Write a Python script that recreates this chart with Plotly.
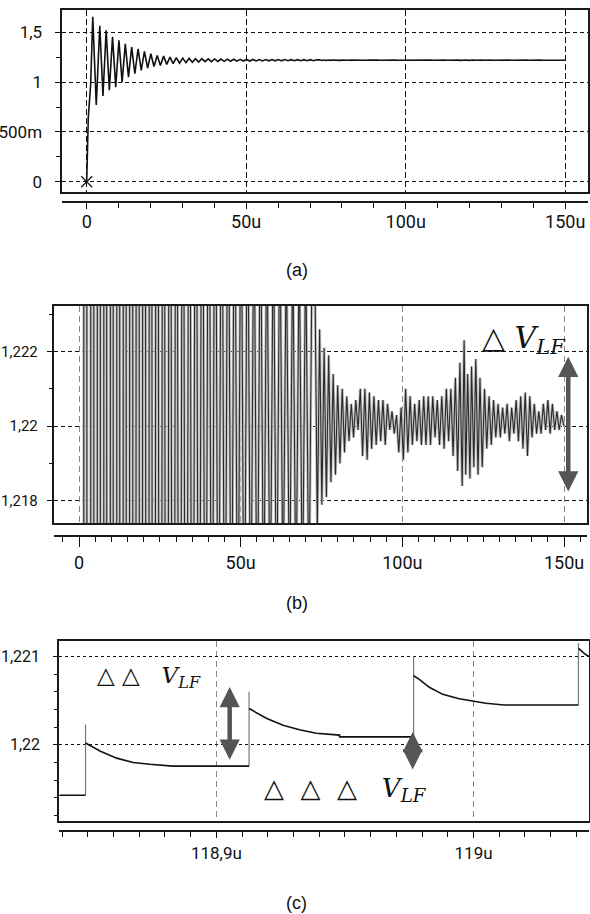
import plotly.graph_objects as go

W, H = 590, 914

# ---------------- data ----------------
# panel (a)/(b): damped ringing, extrema (time in us, volts)
a_t = [0, 0.5, 1.25, 1.9, 3.0, 4.1, 5.1, 6.1, 7.1, 8.1, 9.1, 10.1, 11.1, 12.1, 13.1, 14.1,
       15.1, 16.1, 17.1, 18.1, 19.1, 20.1, 21.1, 22.1, 23.1, 24.1, 25.1, 26.1, 27.1, 28.1,
       29.1, 30.1, 31.1, 32.1, 33.1, 34.1, 35.1, 36.1, 37.1, 38.1, 39.1, 40.1, 41.1, 42.1,
       43.1, 44.1, 45.1, 46.1, 47.1, 48.1, 49.1, 50.1, 51.1, 52.1, 53.1, 54.1, 55.1, 56.1,
       57.1, 58.1, 59.1, 60.1, 61.1, 62.1, 63.1, 64.1, 65.1, 66.1, 67.1, 68.1, 69.1, 70.1,
       71.1, 72.1]
a_v = [0, 0.65, 0.98, 1.655, 0.77, 1.565, 0.86, 1.52, 0.92, 1.455, 0.95, 1.42, 1.00, 1.385,
       1.05, 1.352, 1.084, 1.335, 1.117, 1.308, 1.14, 1.285, 1.157, 1.268, 1.168, 1.261,
       1.178, 1.251, 1.185, 1.245, 1.191, 1.241, 1.195, 1.238, 1.199, 1.236, 1.202, 1.235,
       1.205, 1.234, 1.206, 1.233, 1.208, 1.232, 1.209, 1.231, 1.210, 1.230, 1.211, 1.229,
       1.212, 1.228, 1.212, 1.228, 1.213, 1.227, 1.213, 1.227, 1.214, 1.226, 1.214, 1.226,
       1.214, 1.226, 1.215, 1.225, 1.215, 1.225, 1.215, 1.225, 1.215, 1.225, 1.215, 1.225]

# late residual ripple (visible only in the zoomed panel b), extrema pairs
b_t = [73.0, 73.7, 74.4, 75.1, 75.8, 76.5, 77.2, 77.9, 78.6, 79.3, 80.0, 80.7, 81.4, 82.1,
       82.8, 83.5, 84.2, 84.9, 85.6, 86.3, 87.0, 87.7, 88.4, 89.1, 89.8, 90.5, 91.2, 91.9,
       92.6, 93.3, 94.0, 94.7, 95.4, 96.1, 96.8, 97.5, 98.2, 98.9, 99.6, 100.3, 101.0, 101.7,
       102.4, 103.1, 103.8, 104.5, 105.2, 105.9, 106.6, 107.3, 108.0, 108.7, 109.4, 110.1,
       110.8, 111.5, 112.2, 112.9, 113.6, 114.3, 115.0, 115.7, 116.4, 117.1, 117.8, 118.5,
       119.1, 119.6, 120.2, 120.9, 121.4, 122.1, 122.7, 123.4, 124.0, 124.7, 125.4, 126.1,
       126.8, 127.5, 128.2, 128.9, 129.6, 130.3, 131.0, 131.7, 132.4, 133.1, 133.8, 134.5,
       135.2, 135.9, 136.6, 137.3, 138.0, 138.7, 139.4, 140.1, 140.8, 141.5, 142.2, 142.9,
       143.6, 144.3, 145.0, 145.7, 146.4, 147.1, 147.8, 148.5, 149.2, 150.0]
b_v = [1.2236, 1.2172, 1.2226, 1.2179, 1.2221, 1.2181, 1.2219, 1.2185, 1.2214, 1.2187,
       1.2211, 1.2190, 1.2210, 1.2193, 1.2208, 1.2196, 1.2206, 1.2197, 1.2207, 1.2199,
       1.2210, 1.2192, 1.2210, 1.2191, 1.2209, 1.2194, 1.2208, 1.2195, 1.2207, 1.2196,
       1.2207, 1.2195, 1.2206, 1.2199, 1.2204, 1.2198, 1.2203, 1.2193, 1.2205, 1.2191,
       1.2210, 1.2193, 1.2208, 1.2195, 1.2206, 1.2196, 1.2207, 1.2195, 1.2208, 1.2195,
       1.2208, 1.2195, 1.2208, 1.2197, 1.2207, 1.2195, 1.2208, 1.2194, 1.2210, 1.2196,
       1.2210, 1.2192, 1.2213, 1.2188, 1.2217, 1.2184, 1.2223, 1.2187, 1.2214, 1.2186,
       1.2216, 1.2189, 1.2218, 1.2187, 1.2213, 1.2189, 1.2210, 1.2194, 1.2208, 1.2195,
       1.2207, 1.2197, 1.2206, 1.2197, 1.2205, 1.2198, 1.2206, 1.2196, 1.2205, 1.2198,
       1.2207, 1.2196, 1.2208, 1.2194, 1.2209, 1.2192, 1.2208, 1.2197, 1.2206, 1.2198,
       1.2204, 1.2198, 1.2206, 1.2199, 1.2207, 1.2198, 1.2206, 1.2199, 1.2204, 1.2199,
       1.2203, 1.2200]

# panel (c): switching steps around 119us
c_jump_t = [118.8491, 118.9127, 118.9767, 119.0408]
c_jump_low = [1.21943, 1.21976, 1.22009, 1.22045]
c_jump_high = [1.22023, 1.22060, 1.22100, 1.22115]
c_seg_t = [
    [118.8389, 118.8491],
    [118.8491, 118.8547, 118.8612, 118.8676, 118.8741, 118.8830, 118.9127],
    [118.9127, 118.9194, 118.9259, 118.9323, 118.9388, 118.9479, 118.9479, 118.9767],
    [118.9767, 118.9789, 118.9828, 118.9880, 118.9944, 119.0009, 119.0048, 119.0119, 119.0408],
    [119.0408, 119.0436, 119.0449],
]
c_seg_v = [
    [1.21943, 1.21943],
    [1.22002, 1.21993, 1.21985, 1.21980, 1.21978, 1.21976, 1.21976],
    [1.22041, 1.22030, 1.22022, 1.22017, 1.22013, 1.22011, 1.22009, 1.22009],
    [1.22078, 1.22074, 1.22065, 1.22057, 1.22052, 1.22049, 1.22047, 1.22045, 1.22045],
    [1.22109, 1.22102, 1.22100],
]

# tick labels
a_xticks = [0, 50, 100, 150]
a_xtext = ["0", "50u", "100u", "150u"]
a_yticks = [0, 0.5, 1, 1.5]
a_ytext = ["0", "500m", "1", "1,5"]
b_yticks = [1.218, 1.22, 1.222]
b_ytext = ["1,218", "1,22", "1,222"]
c_xticks = [118.9, 119.0]
c_xtext = ["118,9u", "119u"]
c_yticks = [1.22, 1.221]
c_ytext = ["1,22", "1,221"]

# ---------------- layout helpers ----------------
def fx(px):
    return px / W

def fy(py):
    return 1 - py / H

def tfont(size):
    return dict(family="Roboto, Liberation Sans, sans-serif", size=size, color="#111")

panels = {
    # frame px: left, right, top, bottom ; bottom axis px ; x range ; y range
    "a": dict(l=61.5, r=588, t=10, b=192, ax=199.5, xr=[-7.9, 157.15], yr=[-0.103, 1.724]),
    "b": dict(l=53.8, r=587, t=306, b=523.3, ax=534, xr=[-7.8, 157.1], yr=[1.2174, 1.22322]),
    "c": dict(l=59.3, r=589, t=640.7, b=821, ax=829.3, xr=[118.8389, 119.0449], yr=[1.21914, 1.221176]),
}

fig = go.Figure()

# combined ringing waveform
w_t = a_t + b_t
w_v = a_v + b_v

fig.add_trace(go.Scatter(x=w_t, y=w_v, mode="lines", line=dict(color="#111", width=1.6),
                         xaxis="x", yaxis="y", showlegend=False, hoverinfo="skip"))
fig.add_trace(go.Scatter(x=[a_t[0]], y=[a_v[0]], mode="markers",
                         marker=dict(symbol="x-thin-open", size=11, color="#111",
                                     line=dict(color="#111", width=1.2)),
                         xaxis="x", yaxis="y", showlegend=False, hoverinfo="skip", cliponaxis=False))
# panel b: grey halo + dark stroke of the same waveform
fig.add_trace(go.Scatter(x=w_t, y=w_v, mode="lines", line=dict(color="#c4c4c4", width=3),
                         xaxis="x2", yaxis="y2", showlegend=False, hoverinfo="skip"))
fig.add_trace(go.Scatter(x=w_t, y=w_v, mode="lines", line=dict(color="#2a2a2a", width=1.1),
                         xaxis="x2", yaxis="y2", showlegend=False, hoverinfo="skip"))

# panel c
seg_x, seg_y = [], []
for ts, vs in zip(c_seg_t, c_seg_v):
    seg_x += ts + [None]
    seg_y += vs + [None]
jx, jy = [], []
for t, lo, hi in zip(c_jump_t, c_jump_low, c_jump_high):
    jx += [t, t, None]
    jy += [lo, hi, None]
fig.add_trace(go.Scatter(x=jx, y=jy, mode="lines", line=dict(color="#777", width=1.2),
                         xaxis="x3", yaxis="y3", showlegend=False, hoverinfo="skip"))
fig.add_trace(go.Scatter(x=seg_x, y=seg_y, mode="lines", line=dict(color="#111", width=1.6),
                         xaxis="x3", yaxis="y3", showlegend=False, hoverinfo="skip"))

# dummy traces for the detached time axes
for k in ("4", "5", "6"):
    fig.add_trace(go.Scatter(x=[None], y=[None], xaxis="x" + k, yaxis="y" + k,
                             showlegend=False, hoverinfo="skip"))

layout = dict(template="none", width=W, height=H, margin=dict(l=0, r=0, t=0, b=0, autoexpand=False),
              paper_bgcolor="white", plot_bgcolor="white", showlegend=False)

frame = dict(showline=True, mirror=True, linecolor="#1a1a1a", linewidth=2, zeroline=False,
             automargin=False, ticklabeloverflow="allow")

# panel a
p = panels["a"]
layout["xaxis"] = dict(frame, domain=[fx(p["l"]), fx(p["r"])], anchor="y", range=p["xr"],
                       tickvals=a_xticks, showticklabels=False, ticks="",
                       showgrid=True, gridcolor="#111", griddash="6px,3px", gridwidth=1)
layout["yaxis"] = dict(frame, domain=[fy(p["b"]), fy(p["t"])], anchor="x", range=p["yr"],
                       tickvals=a_yticks, ticktext=a_ytext, ticks="outside", ticklen=5,
                       tickcolor="#111", tickfont=tfont(17), ticklabelstandoff=9,
                       minor=dict(tickvals=[0.25, 0.75, 1.25], ticks="outside", ticklen=4, tickcolor="#111", showgrid=False),
                       showgrid=True, gridcolor="#111", griddash="4px,3px", gridwidth=1)
# panel b
p = panels["b"]
layout["xaxis2"] = dict(frame, domain=[fx(p["l"]), fx(p["r"])], anchor="y2", range=p["xr"],
                        tickvals=a_xticks, showticklabels=False, ticks="",
                        showgrid=True, gridcolor="#888", griddash="6px,4px", gridwidth=1)
layout["yaxis2"] = dict(frame, domain=[fy(p["b"]), fy(p["t"])], anchor="x2", range=p["yr"],
                        tickvals=b_yticks, ticktext=b_ytext, ticks="outside", ticklen=5,
                        tickcolor="#111", tickfont=tfont(15), ticklabelstandoff=6,
                        minor=dict(tickvals=[1.219, 1.221, 1.223], ticks="outside", ticklen=3, tickcolor="#111", showgrid=False),
                        showgrid=True, gridcolor="#111", griddash="4px,3px", gridwidth=1)
# panel c
p = panels["c"]
layout["xaxis3"] = dict(frame, domain=[fx(p["l"]), fx(p["r"])], anchor="y3", range=p["xr"],
                        tickvals=c_xticks, showticklabels=False, ticks="",
                        showgrid=True, gridcolor="#888", griddash="6px,4px", gridwidth=1)
layout["yaxis3"] = dict(frame, domain=[fy(p["b"]), fy(p["t"])], anchor="x3", range=p["yr"],
                        tickvals=c_yticks, ticktext=c_ytext, ticks="outside", ticklen=4,
                        tickcolor="#111", tickfont=tfont(16), ticklabelstandoff=10,
                        minor=dict(dtick=0.0002, tick0=1.22, ticks="outside", ticklen=3, tickcolor="#111", showgrid=False),
                        showgrid=True, gridcolor="#111", griddash="3px,3px", gridwidth=1)

# detached time axes below each frame
for k, key, tv, tt, mdt, fs, tl, so in (("4", "a", a_xticks, a_xtext, 10, 18, 6, -2),
                                        ("5", "b", a_xticks, a_xtext, 5, 18, 10, 0),
                                        ("6", "c", c_xticks, c_xtext, 0.01, 17, 6, 0)):
    p = panels[key]
    layout["xaxis" + k] = dict(domain=[fx(p["l"]), fx(p["r"])], anchor="y" + k, range=p["xr"],
                               showline=True, linecolor="#1a1a1a", linewidth=2, zeroline=False,
                               automargin=False, ticklabeloverflow="allow",
                               showgrid=False, tickvals=tv, ticktext=tt, ticks="outside",
                               ticklen=tl, tickcolor="#111", tickfont=tfont(fs), ticklabelstandoff=so,
                               minor=dict(dtick=mdt, tick0=tv[0], ticks="outside", ticklen=5,
                                          tickcolor="#111", showgrid=False))
    layout["yaxis" + k] = dict(domain=[fy(p["ax"] + 1), fy(p["ax"])], anchor="x" + k,
                               range=[0, 1], visible=False, automargin=False)

fig.update_layout(**layout)

SERIF = "DejaVu Serif, Liberation Serif, serif"
ann = []
for txt, py in (("(a)", 270), ("(b)", 603), ("(c)", 903)):
    ann.append(dict(text=txt, x=fx(297), y=fy(py), xref="paper", yref="paper", showarrow=False,
                    xanchor="center", yanchor="middle",
                    font=dict(family="Liberation Sans, Arial, sans-serif", size=18, color="#111")))
ann.append(dict(text="<i>\u25b3 V</i><sub><i>LF</i></sub>", x=fx(480), y=fy(340),
                xref="paper", yref="paper", showarrow=False, xanchor="left", yanchor="middle",
                font=dict(family=SERIF, size=30, color="#111")))
ann.append(dict(text="<i>\u25b3\u00a0\u25b3\u00a0\u00a0 V</i><sub><i>LF</i></sub>", x=fx(95), y=fy(677),
                xref="paper", yref="paper", showarrow=False, xanchor="left", yanchor="middle",
                font=dict(family=SERIF, size=23, color="#111")))
ann.append(dict(text="<i>\u25b3\u00a0\u00a0\u25b3\u00a0\u00a0\u25b3\u00a0\u00a0 V</i><sub><i>LF</i></sub>",
                x=fx(262), y=fy(789),
                xref="paper", yref="paper", showarrow=False, xanchor="left", yanchor="middle",
                font=dict(family=SERIF, size=26, color="#111")))

# double arrows (tail/head in data coordinates of each panel)
arrows = [("x2", "y2", 151.3, 1.21821, 1.22186),
          ("x3", "y3", 118.90516, 1.219816, 1.220653),
          ("x3", "y3", 118.97632, 1.219706, 1.220144)]
for xr, yr, xt, ylo, yhi in arrows:
    ann.append(dict(x=xt, y=yhi, ax=xt, ay=ylo, xref=xr, yref=yr, axref=xr, ayref=yr,
                    text="", showarrow=True, arrowhead=2, arrowside="end+start",
                    arrowsize=0.9, arrowwidth=4.5, arrowcolor="#555", standoff=0, startstandoff=0))
fig.update_layout(annotations=ann)

fig.write_html("out.html", post_script="document.body.style.margin='0px';",
               config={"displayModeBar": False})
